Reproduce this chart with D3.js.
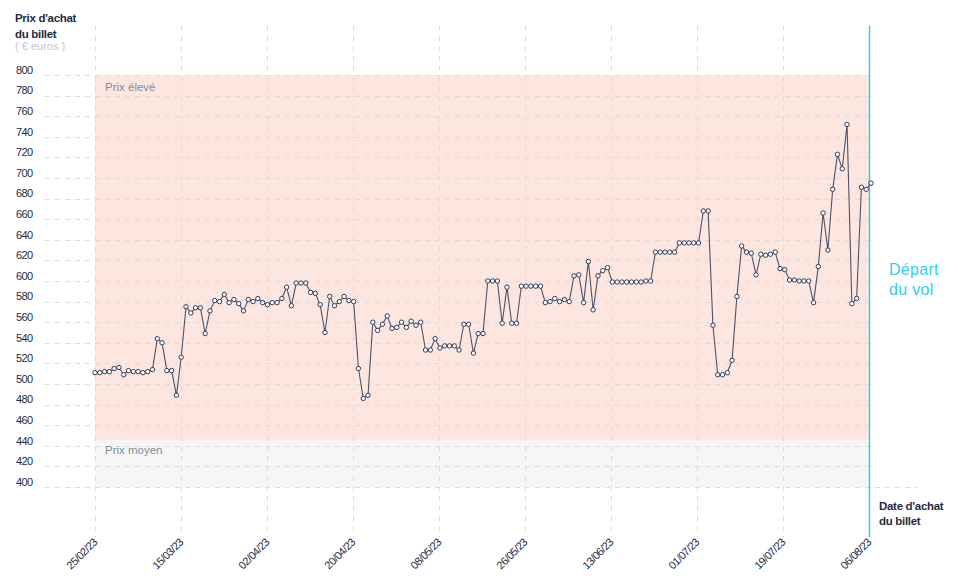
<!DOCTYPE html>
<html><head><meta charset="utf-8">
<script src="https://cdn.jsdelivr.net/npm/d3@7"></script>
<style>
body{margin:0;background:#fff;}
svg{display:block;font-family:"Liberation Sans",Arial,sans-serif;}
</style></head>
<body><svg id="c" width="958" height="585"></svg>
<script>
const startDate = "2023-02-25";
const endDate = "2023-08-06";
const prices = [
 511,511,512,512,515,516,509,513,512,512,511,512,514,544,540,513,513,489,526,575,569,
 574,574,549,571,581,580,587,579,582,578,571,582,580,583,579,577,579,579,583,594,576,
 598,598,598,589,588,577,550,585,576,580,585,581,580,515,486,489,560,552,558,566,
 554,555,560,555,561,557,560,533,533,544,535,537,537,537,533,558,558,530,549,549,600,
 600,600,559,594,559,559,595,595,595,595,595,579,580,583,580,582,580,605,606,579,619,
 572,605,610,613,599,599,599,599,599,599,599,600,600,628,628,628,628,628,637,637,637,
 637,637,668,668,557,509,509,511,523,585,634,628,627,606,626,625,626,628,612,611,601,
 601,600,600,600,579,614,666,630,689,723,709,752,578,583,691,689,695
];
const tickDates = ["2023-02-25","2023-03-15","2023-04-02","2023-04-20","2023-05-08","2023-05-26","2023-06-13","2023-07-01","2023-07-19","2023-08-06"];
const yTicks = [400,420,440,460,480,500,520,540,560,580,600,620,640,660,680,700,720,740,760,780,800];
const bands = [{name:"Prix élevé", from:445, to:800, color:"#fde6e0"},{name:"Prix moyen", from:400, to:445, color:"#f6f6f6"}];

const parse = d3.timeParse("%Y-%m-%d");
const fmt = d3.timeFormat("%d/%m/%y");
const dates = d3.timeDay.range(parse(startDate), d3.timeDay.offset(parse(endDate),1));
const data = prices.map((v,i)=>({date:dates[i], value:v}));

const svg = d3.select("#c");
const x = d3.scaleTime().domain([parse(startDate), parse(endDate)]).range([95, 869]);
const xPts = d3.scaleTime().domain([parse(startDate), parse(endDate)]).range([95, 871]);
const y = d3.scaleLinear().domain([400, 800]).range([487, 75]);

// bands
bands.forEach(b=>{
  svg.append("rect").attr("x", x.range()[0]).attr("width", x.range()[1]-x.range()[0])
    .attr("y", y(b.to)).attr("height", y(b.from)-y(b.to)).attr("fill", b.color);
});

// horizontal gridlines
svg.append("g").selectAll("line").data(yTicks).join("line")
  .attr("x1",45).attr("x2",d=> d===400 ? 918 : 869)
  .attr("y1",d=>Math.round(y(d))+0.5).attr("y2",d=>Math.round(y(d))+0.5)
  .attr("stroke","#dcdcdc").attr("stroke-width",1).attr("stroke-dasharray","5,5");

// vertical gridlines
const tds = tickDates.map(parse);
svg.append("g").selectAll("line").data(tds.slice(0,-1)).join("line")
  .attr("x1",d=>Math.round(x(d))+0.5).attr("x2",d=>Math.round(x(d))+0.5)
  .attr("y1",26).attr("y2",537)
  .attr("stroke","#dcdcdc").attr("stroke-width",1).attr("stroke-dasharray","5,5");

// y labels
svg.append("g").selectAll("text").data(yTicks).join("text")
  .attr("x",16).attr("y",d=>y(d)-5).attr("dy","0.35em")
  .attr("font-size",11).attr("letter-spacing","-0.6").attr("fill","#1f2a44")
  .text(d=>d);

// x labels
svg.append("g").selectAll("text").data(tds).join("text")
  .attr("transform",d=>`translate(${x(d)+3},${543}) rotate(-45)`)
  .attr("text-anchor","end").attr("font-size",11).attr("letter-spacing","-0.6")
  .attr("fill","#1f2a44").text(d=>fmt(d));

// band labels
bands.forEach((b,i)=>{
  svg.append("text").attr("x",105).attr("y",y(b.to)+(i===0?16:13))
    .attr("font-size",11.5).attr("fill","#858a9a").text(b.name);
});

// departure line
svg.append("line").attr("x1",869.5).attr("x2",869.5).attr("y1",26).attr("y2",537)
  .attr("stroke","#2fc6ea").attr("stroke-width",1.4);

// line
const line = d3.line().x(d=>xPts(d.date)).y(d=>y(d.value));
svg.append("path").datum(data).attr("d",line).attr("fill","none")
  .attr("stroke","#4b5369").attr("stroke-width",1.1);
svg.append("g").selectAll("circle").data(data).join("circle")
  .attr("cx",d=>xPts(d.date)).attr("cy",d=>y(d.value)).attr("r",2.2)
  .attr("fill","#fff").attr("stroke","#2c3a58").attr("stroke-width",1);

// titles
const t = svg.append("text").attr("font-size",11.5).attr("font-weight","bold").attr("fill","#1f2a44").attr("letter-spacing","-0.3");
t.append("tspan").attr("x",15).attr("y",22).text("Prix d'achat");
t.append("tspan").attr("x",15).attr("y",38).text("du billet");
svg.append("text").attr("x",15).attr("y",50).attr("font-size",11).attr("fill","#c4c4c8").text("( € euros )");

const d2 = svg.append("text").attr("font-size",16).attr("fill","#33cdef").attr("letter-spacing","0.3");
d2.append("tspan").attr("x",889).attr("y",275).text("Départ");
d2.append("tspan").attr("x",889).attr("y",295).text("du vol");

const t2 = svg.append("text").attr("font-size",11.5).attr("font-weight","bold").attr("fill","#1f2a44").attr("letter-spacing","-0.3");
t2.append("tspan").attr("x",879).attr("y",510).text("Date d'achat");
t2.append("tspan").attr("x",879).attr("y",525).text("du billet");
</script></body></html>
